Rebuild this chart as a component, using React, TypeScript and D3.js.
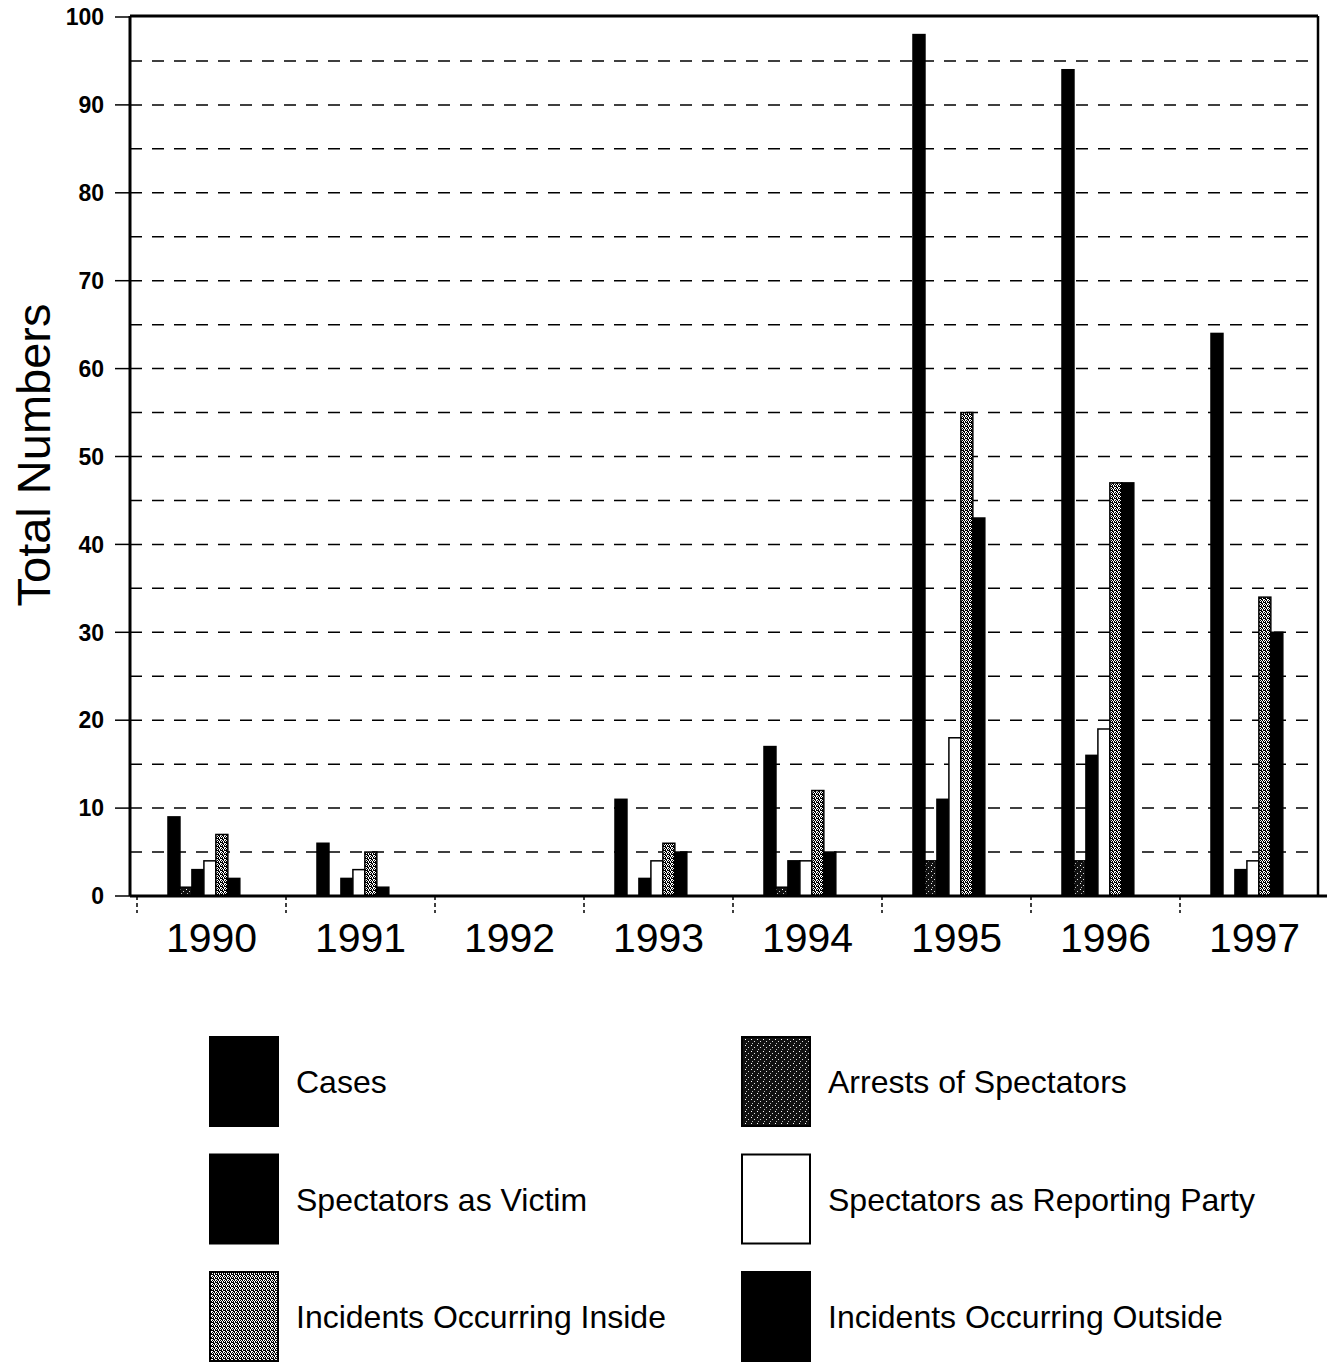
import React from "react";
import * as d3 from "d3";

const years = ["1990", "1991", "1992", "1993", "1994", "1995", "1996", "1997"];
const seriesNames = [
  "Cases",
  "Arrests of Spectators",
  "Spectators as Victim",
  "Spectators as Reporting Party",
  "Incidents Occurring Inside",
  "Incidents Occurring Outside",
];
const cases = [9, 6, 0, 11, 17, 98, 94, 64];
const arrests = [1, 0, 0, 0, 1, 4, 4, 0];
const victim = [3, 2, 0, 2, 4, 11, 16, 3];
const reporting = [4, 3, 0, 4, 4, 18, 19, 4];
const inside = [7, 5, 0, 6, 12, 55, 47, 34];
const outside = [2, 1, 0, 5, 5, 43, 47, 30];
const yTicks = [0, 10, 20, 30, 40, 50, 60, 70, 80, 90, 100];
const gridValues = d3.range(5, 100, 5);

const seriesValues = [cases, arrests, victim, reporting, inside, outside];
const fills = ["#000", "url(#patDark)", "#000", "#fff", "url(#patLight)", "#000"];

// legend order (two columns)
const legendLeft = [0, 2, 4];
const legendRight = [1, 3, 5];

export default function App() {
  const W = 1327;
  const H = 1362;
  const axisX = 130;
  const frameRight = 1318;
  const frameTop = 16;
  const x0 = d3.scaleBand<string>().domain(years).range([137, 1329]);
  const bw = x0.bandwidth();
  const x1 = d3
    .scaleBand<number>()
    .domain(d3.range(seriesNames.length))
    .range([bw * 0.208, bw * 0.69]);
  const y = d3.scaleLinear().domain([0, 100]).range([896, 17]);
  const font = "'Liberation Sans', Arial, sans-serif";

  return (
    <svg width={W} height={H} style={{ display: "block", position: "absolute", left: 0, top: 0 }}>
      <defs>
        <pattern id="patLight" width="4" height="4" patternUnits="userSpaceOnUse">
          <rect width="4" height="4" fill="#fff" />
          <rect x="0" y="0" width="1" height="1" fill="#000" />
          <rect x="2" y="0" width="1" height="1" fill="#000" />
          <rect x="1" y="1" width="1" height="1" fill="#000" />
          <rect x="3" y="1" width="1" height="1" fill="#000" />
          <rect x="0" y="2" width="2" height="1" fill="#000" />
          <rect x="3" y="2" width="1" height="1" fill="#000" />
          <rect x="1" y="3" width="1" height="1" fill="#000" />
          <rect x="2" y="3" width="1" height="1" fill="#000" />
        </pattern>
        <pattern id="patDark" width="6" height="6" patternUnits="userSpaceOnUse">
          <rect width="6" height="6" fill="#111" />
          <rect x="1" y="1" width="1" height="1" fill="#fff" />
          <rect x="4" y="3" width="1" height="1" fill="#ddd" />
          <rect x="2" y="5" width="1" height="1" fill="#bbb" />
        </pattern>
      </defs>
      <rect width={W} height={H} fill="#fff" />

      {/* grid lines */}
      {gridValues.map((v) => (
        <line
          key={"g" + v}
          x1={axisX}
          x2={frameRight}
          y1={y(v)}
          y2={y(v)}
          stroke="#000"
          strokeWidth={1.5}
          strokeDasharray="12,10"
        />
      ))}

      {/* frame */}
      <line x1={axisX} x2={frameRight} y1={frameTop} y2={frameTop} stroke="#000" strokeWidth={3} />
      <line x1={frameRight} x2={frameRight} y1={frameTop} y2={y(0)} stroke="#000" strokeWidth={2.5} />
      <line x1={axisX} x2={axisX} y1={frameTop} y2={y(0)} stroke="#000" strokeWidth={3} />

      {/* y ticks */}
      {yTicks.map((v) => (
        <g key={"t" + v}>
          <line x1={115} x2={axisX} y1={y(v)} y2={y(v)} stroke="#000" strokeWidth={1.5} />
          <text
            x={104}
            y={y(v)}
            dy="0.36em"
            textAnchor="end"
            fontFamily={font}
            fontWeight="bold"
            fontSize={23}
          >
            {v}
          </text>
        </g>
      ))}

      {/* y title */}
      <text
        transform={`translate(50,${455}) rotate(-90)`}
        textAnchor="middle"
        fontFamily={font}
        fontSize={47}
      >
        Total Numbers
      </text>

      {/* bars */}
      {years.map((yr, i) => (
        <g key={yr} transform={`translate(${x0(yr)},0)`}>
          {seriesValues.map((vals, s) => (
            <rect
              key={s}
              x={x1(s)}
              y={y(vals[i])}
              width={x1.bandwidth()}
              height={y(0) - y(vals[i])}
              fill={fills[s]}
              stroke="#000"
              strokeWidth={1.5}
            />
          ))}
        </g>
      ))}

      {/* x axis baseline */}
      <line x1={axisX} x2={1327} y1={y(0)} y2={y(0)} stroke="#000" strokeWidth={3} />

      {/* x dividers */}
      {years.map((yr) => (
        <line
          key={"d" + yr}
          x1={x0(yr)}
          x2={x0(yr)}
          y1={y(0)}
          y2={y(0) + 17}
          stroke="#000"
          strokeWidth={1.5}
          strokeDasharray="4,3"
        />
      ))}

      {/* x labels */}
      {years.map((yr) => (
        <text
          key={"l" + yr}
          x={(x0(yr) as number) + bw / 2}
          y={952}
          textAnchor="middle"
          fontFamily={font}
          fontSize={41}
        >
          {yr}
        </text>
      ))}

      {/* legend */}
      {[legendLeft, legendRight].map((col, c) =>
        col.map((s, r) => {
          const sx = c === 0 ? 210 : 742;
          const sy = 1037 + r * 117.5;
          return (
            <g key={"lg" + s}>
              <rect
                x={sx}
                y={sy}
                width={68}
                height={89}
                fill={fills[s]}
                stroke="#000"
                strokeWidth={2}
              />
              <text x={sx + 86} y={sy + 56} fontFamily={font} fontSize={32}>
                {seriesNames[s]}
              </text>
            </g>
          );
        })
      )}
    </svg>
  );
}
